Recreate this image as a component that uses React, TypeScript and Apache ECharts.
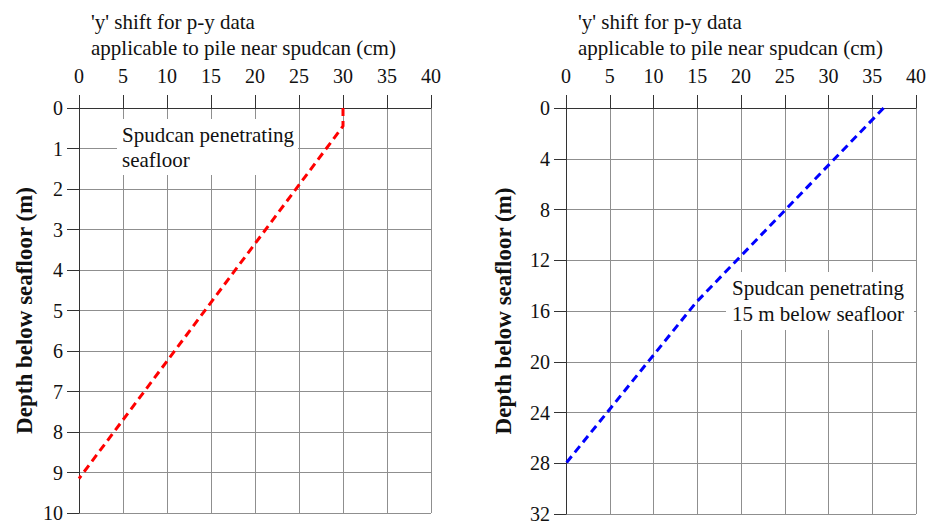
import React, { useEffect, useRef } from "react";
import * as echarts from "echarts";

const xTicksLeft = [0, 5, 10, 15, 20, 25, 30, 35, 40];
const depthLeft = [0, 10];
const depthRight = [0, 32];
const leftSeries: [number, number][] = [
  [30, 0],
  [30, 0.45],
  [0, 9.15],
];
const rightSeries: [number, number][] = [
  [36.3, 0],
  [14.9, 15.3],
  [0, 28],
];
const titleLines = ["'y' shift for p-y data", "applicable to pile near spudcan (cm)"];
const yName = "Depth below seafloor (m)";
const noteLeft = ["Spudcan penetrating", "seafloor"];
const noteRight = ["Spudcan penetrating", "15 m below seafloor"];

const FONT = "Liberation Serif";
const DARK = "#333";
const GRIDC = "#8f8f8f";

export default function App() {
  const ref = useRef<HTMLDivElement>(null);
  useEffect(() => {
    if (!ref.current) return;
    const chart = echarts.init(ref.current, null, { renderer: "svg" });
    const xAxisBase = (gridIndex: number) => ({
      type: "value" as const,
      gridIndex,
      position: "top" as const,
      min: xTicksLeft[0],
      max: xTicksLeft[xTicksLeft.length - 1],
      interval: 5,
      axisLine: { show: true, lineStyle: { color: DARK, width: 1 } },
      axisTick: { show: true, inside: false, length: 13, lineStyle: { color: DARK } },
      axisLabel: { fontFamily: FONT, fontSize: 20, color: "#111", margin: 22, showMaxLabel: true, showMinLabel: true },
      splitLine: { show: true, lineStyle: { color: GRIDC, width: 1 } },
    });
    const yAxisBase = (gridIndex: number, range: number[], interval: number, gap: number) => ({
      type: "value" as const,
      gridIndex,
      inverse: true,
      min: range[0],
      max: range[1],
      interval,
      name: yName,
      nameLocation: "middle" as const,
      nameRotate: 90,
      nameGap: gap,
      nameTextStyle: { fontFamily: FONT, fontSize: 23, fontWeight: "bold", color: "#111" },
      axisLine: { show: true, lineStyle: { color: DARK, width: 1 } },
      axisTick: { show: true, inside: false, length: 12, lineStyle: { color: DARK } },
      axisLabel: { fontFamily: FONT, fontSize: 20, color: "#111", margin: 16, showMaxLabel: true },
      splitLine: { show: true, lineStyle: { color: GRIDC, width: 1 } },
    });
    const textEl = (lines: string[], x: number, y: number, pad: number[] | null, lh: number) => ({
      type: "text" as const,
      x,
      y,
      z: 5,
      style: {
        text: lines.join("\n"),
        fontFamily: FONT,
        fontSize: 21,
        fill: "#111",
        lineHeight: lh,
        backgroundColor: pad ? "#fff" : undefined,
        padding: pad || undefined,
        align: "left",
        verticalAlign: "top",
      },
    });
    chart.setOption({
      animation: false,
      textStyle: { fontFamily: FONT },
      grid: [
        { left: 79, top: 108, width: 352, height: 405, containLabel: false },
        { left: 566, top: 108, width: 352, height: 406, containLabel: false },
      ],
      xAxis: [xAxisBase(0), xAxisBase(1)],
      yAxis: [yAxisBase(0, depthLeft, 1, 43), yAxisBase(1, depthRight, 4, 51)],
      series: [
        {
          type: "line",
          xAxisIndex: 0,
          yAxisIndex: 0,
          data: leftSeries,
          symbol: "none",
          z: 10,
          lineStyle: { color: "#ff0000", width: 3, type: [8, 5] },
        },
        {
          type: "line",
          xAxisIndex: 1,
          yAxisIndex: 1,
          data: rightSeries,
          symbol: "none",
          z: 10,
          lineStyle: { color: "#0000ff", width: 3, type: [8, 5] },
        },
      ],
      graphic: [
        textEl(titleLines, 91, 9, null, 26),
        textEl(titleLines, 578, 9, null, 26),
        textEl(noteLeft, 117, 119, [3, 4, 3, 5], 25),
        textEl(noteRight, 726, 272, [3, 10, 3, 6], 26),
      ],
    });
    return () => chart.dispose();
  }, []);
  return (
    <div
      ref={ref}
      style={{ position: "fixed", left: 0, top: 0, width: 929, height: 524, background: "#fff" }}
    />
  );
}
